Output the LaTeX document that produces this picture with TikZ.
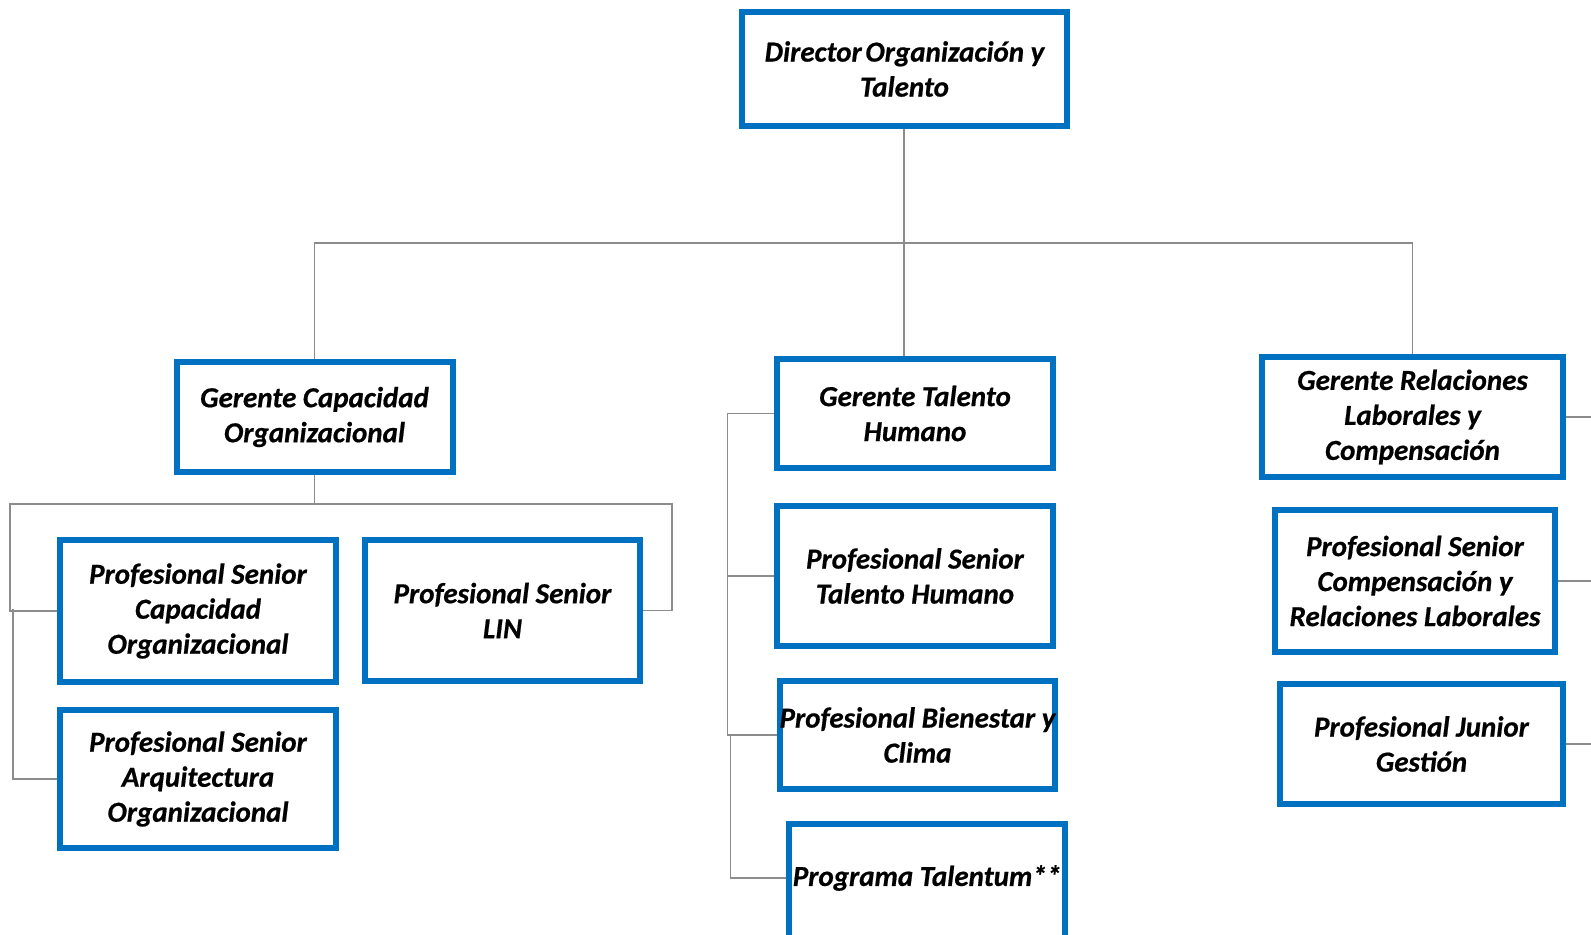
\documentclass[tikz,border=0pt]{standalone}
\usepackage{fontspec}
\setmainfont{Carlito}[BoldItalicFeatures={FakeBold=0.6}]
\definecolor{boxblue}{RGB}{0,112,192}
\definecolor{linegray}{RGB}{140,140,140}
\begin{document}
\begin{tikzpicture}[x=0.5pt,y=-0.5pt,
  box/.style={draw=boxblue, line width=3pt, fill=white, inner sep=0pt, align=center,
    font=\fontsize{14.5pt}{17.5pt}\selectfont\bfseries\itshape},
  lbl/.style={inner sep=0pt, align=center, font=\fontsize{14.5pt}{17.5pt}\selectfont\bfseries\itshape},
  conn/.style={draw=linegray, line width=0.8pt}]
\useasboundingbox (0,0) rectangle (1591,935);
\clip (0,0) rectangle (1591,935);
\fill[white] (0,0) rectangle (1591,935);

% coordinates
\coordinate (busT) at (904,243);
\coordinate (busC) at (314.5,504);
\coordinate (cL) at (10,504);
\coordinate (cR) at (672,504);
\coordinate (cL2) at (13,609);
\coordinate (mT) at (727.5,413);
\coordinate (mT2) at (730.5,735);
\coordinate (E) at (1600,0);

% boxes
\node[box, minimum width=162.5pt, minimum height=57pt] (dir) at (904.5,69) {Director\hspace{-0.1em} Organización y\\Talento};
\node[box, minimum width=138pt, minimum height=55pt] (gcap) at (314.5,417) {Gerente Capacidad\\Organizacional};
\node[box, minimum width=138pt, minimum height=54.5pt] (gth) at (915,413.5) {Gerente Talento\\Humano};
\node[box, minimum width=150.5pt, minimum height=60pt] (grel) at (1412.5,417) {Gerente Relaciones\\Laborales y\\Compensación};
\node[box, minimum width=138pt, minimum height=71pt] (psc) at (198,611) {Profesional Senior\\Capacidad\\Organizacional};
\node[box, minimum width=137.5pt, minimum height=70.5pt] (lin) at (502.5,610.5) {Profesional Senior\\LIN};
\node[box, minimum width=138pt, minimum height=69pt] (arq) at (198,779) {Profesional Senior\\Arquitectura\\Organizacional};
\node[box, minimum width=138pt, minimum height=70pt] (pth) at (915,576) {Profesional Senior\\Talento Humano};
\node[box, minimum width=137.5pt, minimum height=54pt] (pbc) at (917.5,735) {Profesional Bienestar y\\Clima};
\node[box, minimum width=138pt, minimum height=70pt] (tal) at (927,894) {};
\node[lbl] (talT) at (927,878) {Programa Talentum**};
\node[box, minimum width=140pt, minimum height=71pt] (pcomp) at (1415,581) {Profesional Senior\\Compensación y\\Relaciones Laborales};
\node[box, minimum width=141.5pt, minimum height=60pt] (pjr) at (1421.5,744) {Profesional Junior\\Gestión};

% top level
\draw[conn] (dir.south -| busT) -- (busT);
\draw[conn] (busT) -| (gcap.north);
\draw[conn] (busT) -| (grel.north);
\draw[conn] (busT) -- (gth.north -| busT);

% capacidad branch
\draw[conn] (gcap.south) -- (busC);
\draw[conn] (busC) -- (cL) |- (psc.west);
\draw[conn] (busC) -- (cR) |- (lin.east);
\draw[conn] (cL2) |- (arq.west);

% talento branch
\draw[conn] (gth.west) -- (gth.west -| mT) -- (mT |- pbc.west) -- (pbc.west);
\draw[conn] (pth.west) -- (pth.west -| mT);
\draw[conn] (mT2) |- (tal.west |- talT.center);

% relaciones branch
\draw[conn] (grel.east) -- (grel.east -| E);
\draw[conn] (pcomp.east) -- (pcomp.east -| E);
\draw[conn] (pjr.east) -- (pjr.east -| E);
\end{tikzpicture}
\end{document}
